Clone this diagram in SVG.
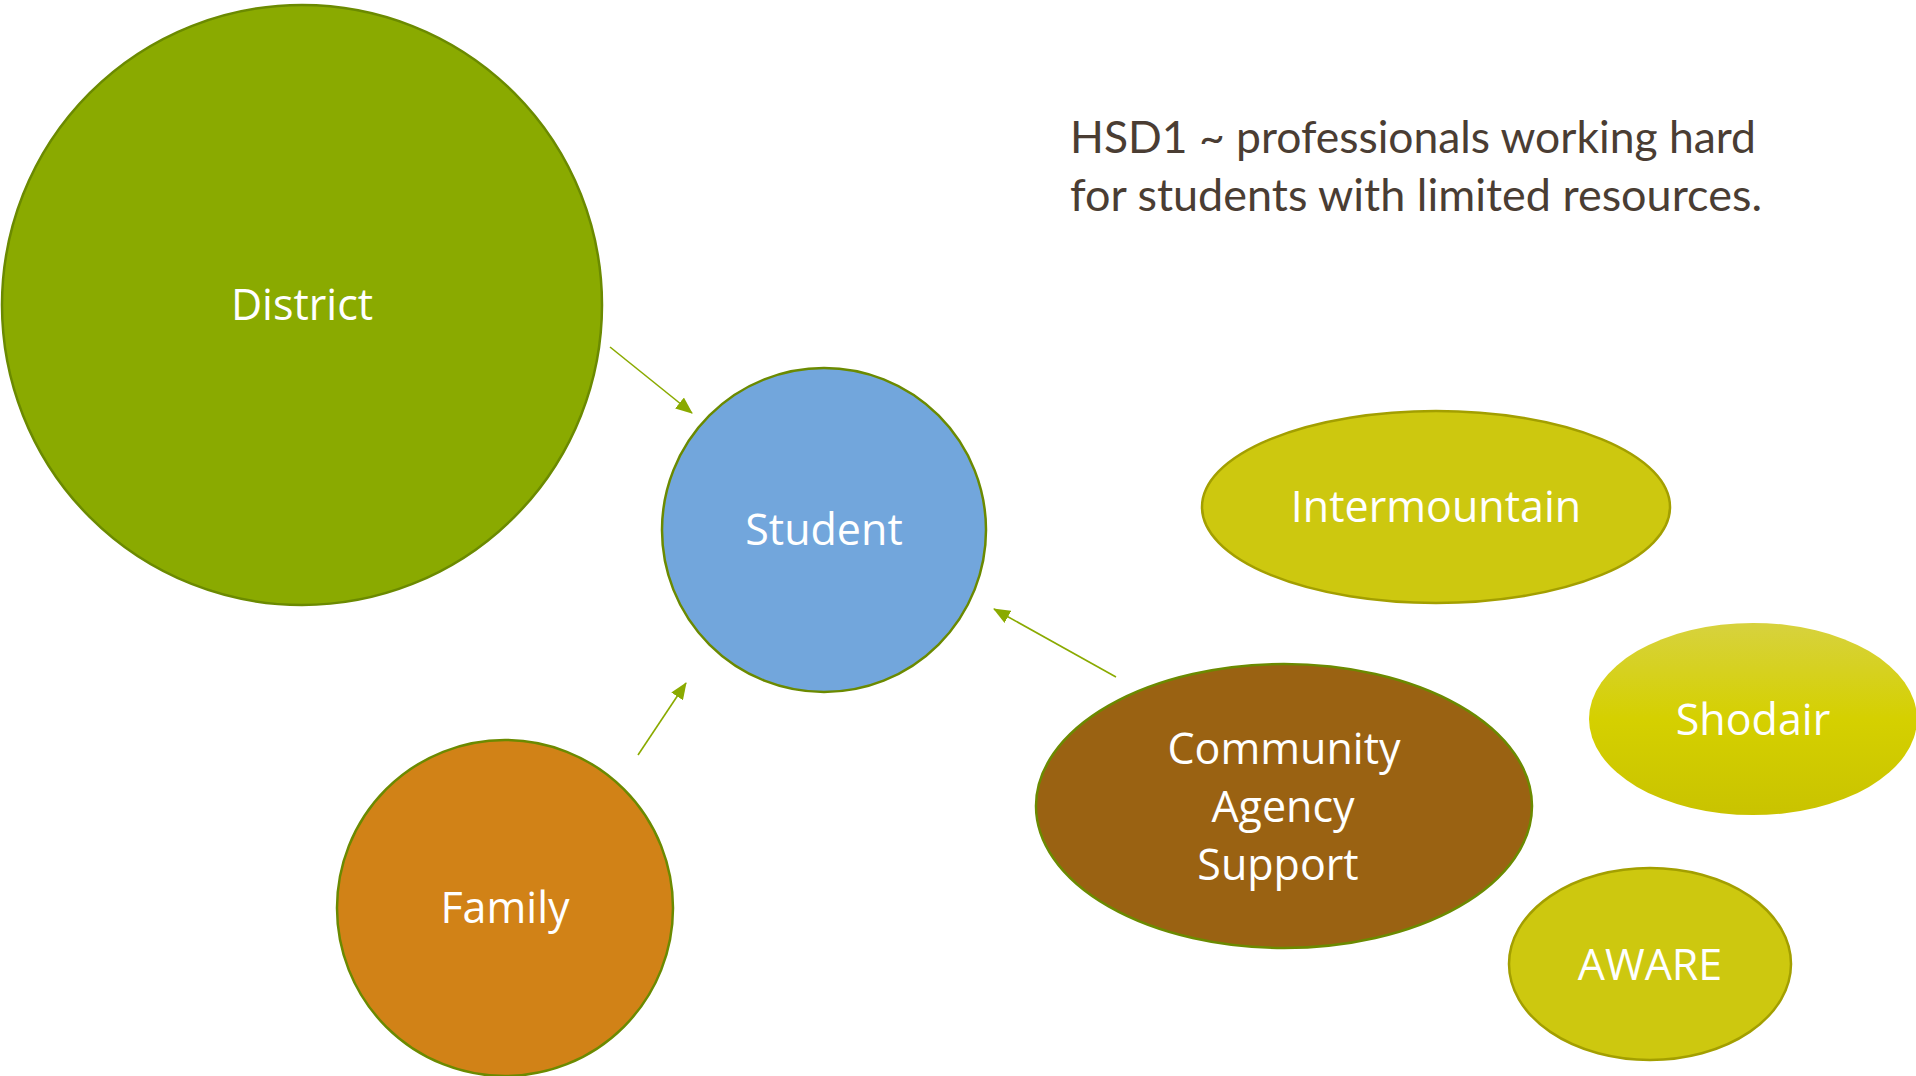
<svg xmlns="http://www.w3.org/2000/svg" width="1916" height="1076" viewBox="0 0 1916 1076">
<style>
.lbl{font-family:"Open Sans","Noto Sans","DejaVu Sans",sans-serif;font-size:43px;fill:#ffffff;text-anchor:middle}
.title{font-family:Lato,"Open Sans",sans-serif;font-size:44px;fill:#4a3d33}
.gs{stroke:#6b8a00;stroke-width:2.5}
.ys{stroke:#a39f00;stroke-width:2.5}
.conn{stroke:#8aaa00;stroke-width:1.6;fill:none;marker-end:url(#ah)}
</style>
<defs>
<marker id="ah" viewBox="0 0 17 14" refX="16" refY="7" markerUnits="userSpaceOnUse" markerWidth="17" markerHeight="14" orient="auto">
<path d="M0,0 L17,7 L0,14 Z" fill="#8aaa00"/>
</marker>
<linearGradient id="shod" x1="0" y1="0" x2="0" y2="1">
<stop offset="0" stop-color="#d7d23e"/>
<stop offset="0.5" stop-color="#d5d000"/>
<stop offset="1" stop-color="#c9c300"/>
</linearGradient>
</defs>
<rect width="1916" height="1076" fill="#ffffff"/>
<g id="title">
<text class="title" x="1070" y="153" textLength="686" lengthAdjust="spacingAndGlyphs">HSD1 ~ professionals working hard</text>
<text class="title" x="1070" y="211" textLength="692" lengthAdjust="spacingAndGlyphs">for students with limited resources.</text>
</g>
<g id="connectors">
<line class="conn" x1="610" y1="347" x2="692" y2="413"/>
<line class="conn" x1="638" y1="755" x2="686" y2="683"/>
<line class="conn" x1="1116" y1="677" x2="994" y2="609"/>
</g>
<g id="district">
<circle cx="302" cy="305" r="300" fill="#8aaa00" class="gs"/>
<text class="lbl" x="302" y="320">District</text>
</g>
<g id="student">
<circle cx="824" cy="530" r="162" fill="#72a6dc" class="gs"/>
<text class="lbl" x="824" y="545">Student</text>
</g>
<g id="family">
<circle cx="505" cy="908" r="168" fill="#d18217" class="gs"/>
<text class="lbl" x="505" y="923">Family</text>
</g>
<g id="community">
<ellipse cx="1284" cy="806" rx="248" ry="142" fill="#9a6212" class="gs"/>
<text class="lbl" x="1284" y="764">Community</text>
<text class="lbl" x="1283" y="822">Agency</text>
<text class="lbl" x="1278" y="880">Support</text>
</g>
<g id="intermountain">
<ellipse cx="1436" cy="507" rx="234" ry="96" fill="#cdc80f" class="ys"/>
<text class="lbl" x="1436" y="522">Intermountain</text>
</g>
<g id="shodair">
<ellipse cx="1753" cy="719" rx="164" ry="96" fill="url(#shod)"/>
<text class="lbl" x="1753" y="735">Shodair</text>
</g>
<g id="aware">
<ellipse cx="1650" cy="964" rx="141" ry="96" fill="#cdc80f" class="ys"/>
<text class="lbl" x="1650" y="980">AWARE</text>
</g>
</svg>
